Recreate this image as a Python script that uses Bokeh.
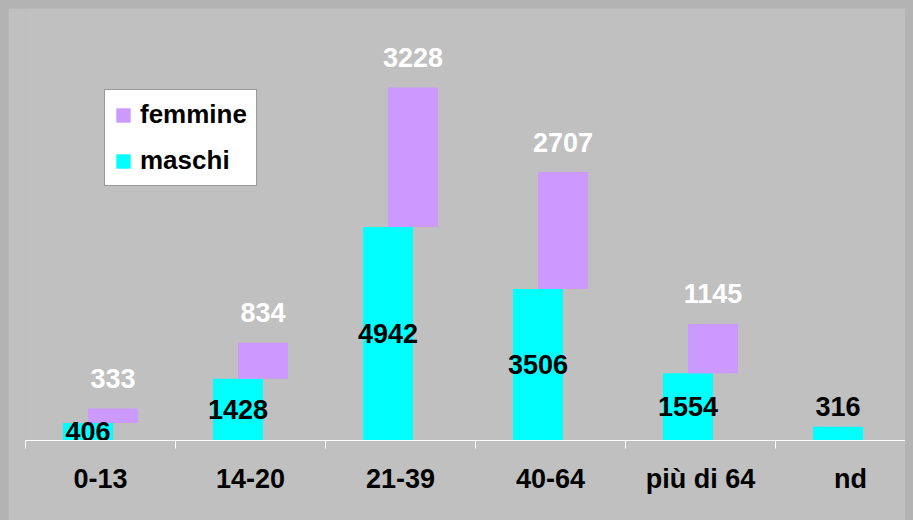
from bokeh.plotting import figure
from bokeh.models import ColumnDataSource, FixedTicker, Legend, LegendItem, Range1d
from bokeh.core.properties import value
from bokeh.embed import file_html
from bokeh.resources import INLINE

# ---- data ----
categories = ["0-13", "14-20", "21-39", "40-64", "più di 64", "nd"]
maschi = [406, 1428, 4942, 3506, 1554, 316]
femmine = [333, 834, 3228, 2707, 1145, None]

FONT = value("Liberation Sans")
CYAN = "#00ffff"
LILAC = "#cc99ff"
BG = "#c0c0c0"

idx = list(range(len(categories)))
shift = 1.0 / 12.0
bw = 1.0 / 3.0

m_src = ColumnDataSource(dict(
    x=[i - shift for i in idx], top=maschi,
    label=[str(v) for v in maschi],
))
f_idx = [i for i in idx if femmine[i] is not None]
f_src = ColumnDataSource(dict(
    x=[i + shift for i in f_idx],
    bottom=[maschi[i] for i in f_idx],
    top=[maschi[i] + femmine[i] for i in f_idx],
    label=[str(femmine[i]) for i in f_idx],
))
# maschi labels centred in the bar (when a femmine part exists), else above the bar
mc_idx = f_idx
mo_idx = [i for i in idx if femmine[i] is None]
mc_src = ColumnDataSource(dict(x=[i - shift for i in mc_idx],
                               y=[maschi[i] / 2 for i in mc_idx],
                               label=[str(maschi[i]) for i in mc_idx]))
mo_src = ColumnDataSource(dict(x=[i - shift for i in mo_idx],
                               y=[maschi[i] for i in mo_idx],
                               label=[str(maschi[i]) for i in mo_idx]))

p = figure(width=905, height=512, output_backend="svg", toolbar_location=None,
           x_range=Range1d(-0.5, -0.5 + 888 / 150), y_range=Range1d(0, 10000),
           min_border_left=17, min_border_right=0, min_border_top=0, min_border_bottom=80)
p.background_fill_color = BG
p.border_fill_color = BG
p.outline_line_color = None
p.xgrid.visible = False
p.ygrid.visible = False
p.yaxis.visible = False

rm = p.vbar(x="x", top="top", bottom=0, width=bw, source=m_src,
            fill_color=CYAN, line_color=None)
rf = p.vbar(x="x", top="top", bottom="bottom", width=bw, source=f_src,
            fill_color=LILAC, line_color=None)

common = dict(text="label", text_font=FONT, text_font_style="bold",
              text_font_size="27px", text_align="center")
p.text(x="x", y="y", source=mc_src, text_color="black", text_baseline="middle", **common)
p.text(x="x", y="y", source=mo_src, text_color="black", text_baseline="alphabetic",
       y_offset=-20, **common)
p.text(x="x", y="top", source=f_src, text_color="white", text_baseline="alphabetic",
       y_offset=-30, **common)

ax = p.xaxis[0]
ax.ticker = FixedTicker(ticks=idx, minor_ticks=[i - 0.5 for i in range(len(categories) + 1)])
ax.major_label_overrides = {i: c for i, c in zip(idx, categories)}
ax.major_tick_line_color = None
ax.major_tick_out = 0
ax.major_tick_in = 0
ax.minor_tick_line_color = "white"
ax.minor_tick_out = 8
ax.minor_tick_in = 0
ax.axis_line_color = "white"
ax.axis_line_width = 1
ax.major_label_text_font = "Liberation Sans"
ax.major_label_text_font_style = "bold"
ax.major_label_text_font_size = "27px"
ax.major_label_text_color = "black"
ax.major_label_standoff = 15

legend = Legend(items=[LegendItem(label="femmine", renderers=[rf]),
                       LegendItem(label="maschi", renderers=[rm])],
                location=(79, 254), margin=0, padding=9, spacing=15,
                glyph_width=18, glyph_height=18, label_height=28, label_standoff=8,
                label_text_font="Liberation Sans", label_text_font_style="bold",
                label_text_font_size="26px", label_text_color="black",
                border_line_color="#333333", border_line_width=1,
                background_fill_color="white", background_fill_alpha=1.0)
p.add_layout(legend, "center")

template = """{% block postamble %}<style>
html, body { overflow: hidden; background: #b3b3b3; }
body { margin: 8px !important; }
</style>{% endblock %}
"""

open("out.html", "w").write(file_html(p, INLINE, template=template))
